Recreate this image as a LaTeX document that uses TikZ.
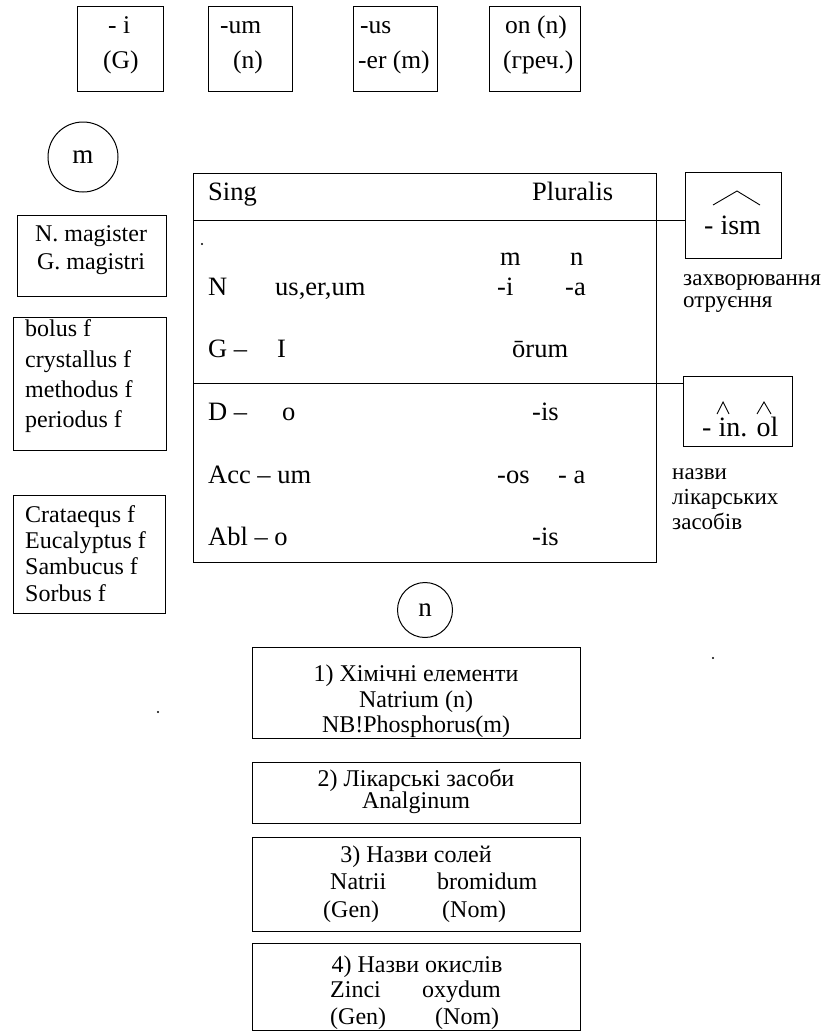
\documentclass[tikz,border=0pt]{standalone}
\usepackage{fontspec}
\setmainfont{Liberation Serif}
\newcommand\fsz[1]{\fontsize{#1}{#1}\selectfont}
\begin{document}
\begin{tikzpicture}[x=1pt,y=-1pt,
  frame/.style={draw, line width=1pt, inner sep=0pt, anchor=north west},
  ring/.style={draw, circle, line width=1pt, inner sep=0pt},
  tw/.style={inner sep=0pt, anchor=west},
  tb/.style={inner sep=0pt, anchor=base west},
  tc/.style={inner sep=0pt, anchor=center},
  topf/.style={font=\fsz{25.5}},
  leftf/.style={font=\fsz{24}},
  tabf/.style={font=\fsz{26.5}},
  sufff/.style={font=\fsz{28}},
  notef/.style={font=\fsz{23}},
  botf/.style={font=\fsz{24}},
  conn/.style={line width=1pt},
  hat/.style={line width=0.9pt}]
\useasboundingbox (0,0) rectangle (823,1036);

% ---- top boxes
\node[frame, minimum width=86pt, minimum height=85pt] (t1) at (77,6) {};
\node[frame, minimum width=84pt, minimum height=85pt] (t2) at (208,6) {};
\node[frame, minimum width=84pt, minimum height=85pt] (t3) at (353,6) {};
\node[frame, minimum width=91pt, minimum height=85pt] (t4) at (489,6) {};
\node[tw, topf] (t1a) at (108,28) {\strut - i};
\node[tw, topf] (t1b) at (103,63) {\strut (G)};
\node[tw, topf] (t2a) at (220,28) {\strut -um};
\node[tw, topf] (t2b) at (233,63) {\strut (n)};
\node[tw, topf] (t3a) at (360,28) {\strut -us};
\node[tw, topf] (t3b) at (358,63) {\strut -er (m)};
\node[tw, topf] (t4a) at (505,28) {\strut on (n)};
\node[tw, topf] (t4b) at (503,63) {\strut (греч.)};

% ---- circle m and left boxes
\node[ring, minimum size=70pt, font=\fsz{27}] (cm) at (83,157) {m};
\node[frame, minimum width=149pt, minimum height=81pt] (l1) at (17,215) {};
\node[tc, leftf] (l1a) at (91,237) {\strut N. magister};
\node[tc, leftf] (l1b) at (91,265) {\strut G. magistri};
\node[frame, minimum width=153pt, minimum height=133pt] (l2) at (13,317) {};
\node[tw, leftf] (l2a) at (25,332) {\strut bolus f};
\node[tw, leftf] (l2b) at (25,363) {\strut crystallus f};
\node[tw, leftf] (l2c) at (25,393) {\strut methodus f};
\node[tw, leftf] (l2d) at (25,423) {\strut periodus f};
\node[frame, minimum width=152pt, minimum height=118pt] (l3) at (13,495) {};
\node[tw, leftf] (l3a) at (25,518) {\strut Crataequs f};
\node[tw, leftf] (l3b) at (25,544) {\strut Eucalyptus f};
\node[tw, leftf] (l3c) at (25,570) {\strut Sambucus f};
\node[tw, leftf] (l3d) at (25,597) {\strut Sorbus f};

% ---- table
\node[frame, minimum width=463pt, minimum height=389pt] (tab) at (193,173) {};
\coordinate (h1) at (0,220);
\coordinate (h2) at (0,383);
\node[tw, tabf] (sg) at (208,195) {\strut Sing};
\node[tw, tabf] (pl) at (532,195) {\strut Pluralis};
\fill (202,244) circle (1.1pt);
\node[tw, tabf] (gm) at (500,260) {\strut m};
\node[tw, tabf] (gn) at (570,260) {\strut n};
\node[tw, tabf] (rN) at (208,290) {\strut N};
\node[tw, tabf] (rNs) at (275,290) {\strut us,er,um};
\node[tw, tabf] (rNm) at (497,290) {\strut -i};
\node[tw, tabf] (rNn) at (565,290) {\strut -a};
\node[tw, tabf] (rG) at (208,352) {\strut G –};
\node[tw, tabf] (rGs) at (277,352) {\strut I};
\node[tw, tabf] (rGp) at (512,352) {\strut ōrum};
\node[tw, tabf] (rD) at (208,415) {\strut D –};
\node[tw, tabf] (rDs) at (282,415) {\strut o};
\node[tw, tabf] (rDp) at (532,415) {\strut -is};
\node[tw, tabf] (rA) at (208,478) {\strut Acc – um};
\node[tw, tabf] (rAm) at (497,478) {\strut -os};
\node[tw, tabf] (rAn) at (558,478) {\strut - a};
\node[tw, tabf] (rB) at (208,540) {\strut Abl – o};
\node[tw, tabf] (rBp) at (532,540) {\strut -is};

% ---- right side
\node[frame, minimum width=96pt, minimum height=86pt] (ism) at (685,172) {};
\node[tw, sufff] (ismt) at (704,229) {\strut - ism};
\draw[hat] (713,205) -- (737,191) -- (760,205);
\node[tb, notef] (n1a) at (683,285) {захворювання};
\node[tb, notef] (n1b) at (683,307) {отруєння};
\node[frame, minimum width=109pt, minimum height=70pt] (inol) at (683,376) {};
\node[tw, sufff] (inolt) at (702,431) {\strut - in. ol};
\draw[hat] (717,414) -- (723,402) -- (729,414);
\draw[hat] (757,414) -- (764,402) -- (771,414);
\node[tb, notef] (n2a) at (672,479) {назви};
\node[tb, notef] (n2b) at (672,504) {лікарських};
\node[tb, notef] (n2c) at (672,529) {засобів};

\draw[conn] (tab.west |- h1) -- (ism.west |- h1);
\draw[conn] (tab.west |- h2) -- (inol.west |- h2);

% ---- circle n and bottom boxes
\node[ring, minimum size=55pt, font=\fsz{27}] (cn) at (425,610) {n};
\node[frame, minimum width=328pt, minimum height=91pt] (b1) at (252,647) {};
\node[tc, botf] (b1a) at (416,677) {\strut 1) Хімічні елементи};
\node[tc, botf] (b1b) at (416,703) {\strut Natrium (n)};
\node[tc, botf] (b1c) at (416,728) {\strut NB!Phosphorus(m)};
\node[frame, minimum width=328pt, minimum height=61pt] (b2) at (252,762) {};
\node[tc, botf] (b2a) at (416,782) {\strut 2) Лікарські засоби};
\node[tc, botf] (b2b) at (416,804) {\strut Analginum};
\node[frame, minimum width=328pt, minimum height=94pt] (b3) at (252,837) {};
\node[tc, botf] (b3a) at (416,858) {\strut 3) Назви солей};
\node[tw, botf] (b3b) at (330,885) {\strut Natrii};
\node[tw, botf] (b3c) at (437,885) {\strut bromidum};
\node[tw, botf] (b3d) at (323,913) {\strut (Gen)};
\node[tw, botf] (b3e) at (442,913) {\strut (Nom)};
\node[frame, minimum width=328pt, minimum height=87pt] (b4) at (252,943) {};
\node[tc, botf] (b4a) at (417,968) {\strut 4) Назви окислів};
\node[tw, botf] (b4b) at (330,993) {\strut Zinci};
\node[tw, botf] (b4c) at (422,993) {\strut oxydum};
\node[tw, botf] (b4d) at (330,1020) {\strut (Gen)};
\node[tw, botf] (b4e) at (435,1020) {\strut (Nom)};

% stray specks of the print
\fill (158,712) circle (1.2pt);
\fill (713,658) circle (1.2pt);
\end{tikzpicture}
\end{document}
